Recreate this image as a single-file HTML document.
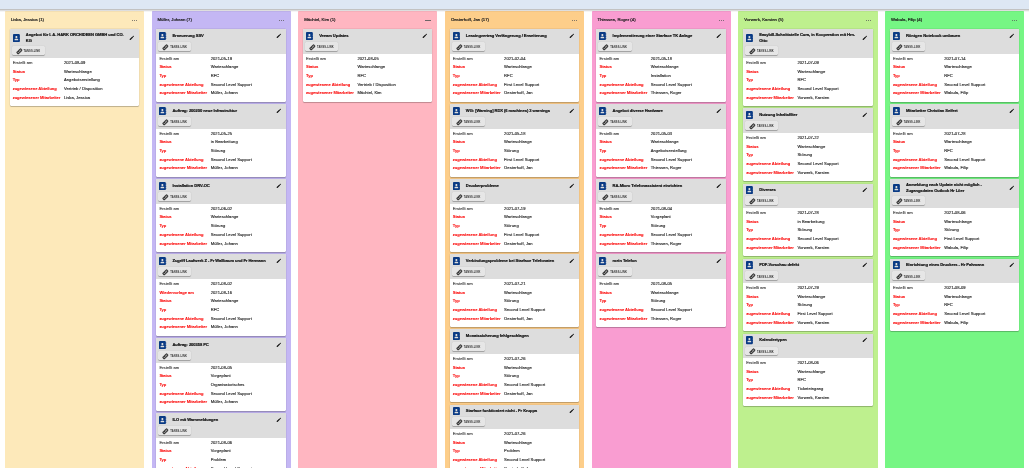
<!DOCTYPE html>
<html lang="de">
<head>
<meta charset="utf-8">
<title>Ticketboard</title>
<style>
html,body{margin:0;padding:0;background:#fff;}
body{width:1029px;height:468px;overflow:hidden;position:relative;font-family:"Liberation Sans",sans-serif;font-size:4.1px;color:#222;}
#app{position:absolute;left:0;top:0;width:1029px;height:468px;overflow:hidden;will-change:transform;-webkit-text-stroke:0.13px;}
.top{position:absolute;left:0;top:0;width:1029px;height:8.8px;background:#dde7f4;z-index:2;}
.sh{position:absolute;left:0;top:8.8px;width:1029px;height:3.6px;z-index:2;background:linear-gradient(to bottom,rgba(0,0,0,.25) 0,rgba(0,0,0,.23) 30%,rgba(0,0,0,.13) 50%,rgba(0,0,0,.07) 70%,rgba(0,0,0,0) 100%);}
.col{position:absolute;top:11.2px;width:138.6px;height:470px;}
.bg{position:absolute;top:0;bottom:0;border-radius:0.8px;}
.ct{position:absolute;left:5.6px;top:5.65px;font-size:4.3px;line-height:6px;color:#1c1c1c;white-space:nowrap;-webkit-text-stroke:0.2px;}
.dots{position:absolute;right:6.7px;top:8.6px;width:5.05px;height:1.2px;display:flex;justify-content:space-between;}
.dots i{display:block;width:1.05px;height:1.05px;border-radius:50%;background:#5a5a5a;}
.cards{position:absolute;left:4.7px;top:18px;width:129.1px;--cdl:0px;--cdr:0px;}
.card{background:#fff;border-radius:1.2px;margin:0 calc(0px - var(--cdr)) 2.5px calc(0px - var(--cdl));padding:0 var(--cdr) 0 var(--cdl);box-shadow:0 0.6px 0.4px -0.3px rgba(0,0,0,.2),0 0.3px 0.4px rgba(0,0,0,.16),0 0.3px 1px rgba(0,0,0,.14),0 0 0 0.5px rgba(0,0,0,.07);overflow:hidden;}
.hd{background:#dddddd;margin:0 calc(0px - var(--cdr)) 0 calc(0px - var(--cdl));padding:2.6px var(--cdr) 3px var(--cdl);}
.tr{display:flex;align-items:center;min-height:8.3px;}
.ib{width:7.3px;height:8.3px;margin-left:2.7px;flex:none;fill:#093a85;display:block;}
.tt{margin-left:5.9px;flex:1;font-weight:bold;font-size:4.1px;line-height:5.8px;letter-spacing:-0.07px;color:#111;white-space:nowrap;padding-bottom:0.9px;-webkit-text-stroke:0.19px;}
.ip{width:5.7px;height:5.7px;flex:none;margin-right:4.3px;margin-top:-0.3px;fill:#151515;display:block;}
.btn{margin:2px 0 0 1.7px;width:33.2px;height:8.6px;background:#e6e6e6;border-radius:1.2px;box-shadow:0 0.9px 0.35px -0.5px rgba(0,0,0,.25),0 0.55px 0.5px rgba(0,0,0,.2),0 0.3px 1.3px rgba(0,0,0,.16);display:flex;align-items:center;box-sizing:border-box;padding-left:4.0px;}
.il{width:6.7px;height:6.7px;flex:none;fill:#1a1a1a;stroke:#1a1a1a;stroke-width:1.7;display:block;position:relative;top:0.9px;overflow:visible;}
.bt{margin-left:1.3px;font-weight:bold;font-size:2.6px;letter-spacing:0.12px;color:#333;white-space:nowrap;line-height:4px;position:relative;top:1.75px;-webkit-text-stroke:0;}
.bd{padding:1px 0 3.65px 0;}
.r{position:relative;height:8.7px;line-height:8.7px;white-space:nowrap;}
.l{position:absolute;left:2.8px;top:0;font-weight:bold;color:#fb1111;letter-spacing:-0.05px;-webkit-text-stroke:0.09px;}
.l.g{font-weight:normal;color:#4a4a4a;letter-spacing:0.045px;-webkit-text-stroke:0.15px;}
.v{position:absolute;left:54.1px;top:0;color:#262626;letter-spacing:0.045px;}
</style>
</head>
<body>
<div id="app">
<div class="top"></div>
<div class="sh"></div>
<div class="col" style="left:5.2px">
<div class="bg" style="left:0px;right:0px;background:#fde9ba"></div>
<div class="ct">Liska, Jessica (1)</div>
<div class="dots"><i></i><i></i><i></i></div>
<div class="cards">
<div class="card">
<div class="hd">
<div class="tr"><svg class="ib" viewBox="0 0 448 512"><path d="M436 160c6.6 0 12-5.4 12-12v-40c0-6.6-5.4-12-12-12h-20V48c0-26.5-21.5-48-48-48H48C21.5 0 0 21.5 0 48v416c0 26.5 21.5 48 48 48h320c26.5 0 48-21.5 48-48v-48h20c6.6 0 12-5.4 12-12v-40c0-6.6-5.4-12-12-12h-20v-64h20c6.6 0 12-5.4 12-12v-40c0-6.6-5.4-12-12-12h-20v-64h20zm-228-32c35.3 0 64 28.7 64 64s-28.7 64-64 64-64-28.7-64-64 28.7-64 64-64zm112 236.8c0 10.6-10 19.2-22.4 19.2H118.4C106 384 96 375.4 96 364.8v-19.2c0-31.8 30.1-57.6 67.2-57.6h5c12.3 5.1 25.7 8 39.8 8s27.6-2.9 39.8-8h5c37.1 0 67.2 25.8 67.2 57.6v19.2z"/></svg><div class="tt">Angebot für I. A. HARK ORCHIDEEN GMBH und CO.<br>KG</div><svg class="ip" viewBox="0 0 24 24"><path d="M20.71 7.04C21.1 6.65 21.1 6 20.71 5.63L18.37 3.29C18 2.9 17.35 2.9 16.96 3.29L15.12 5.12L18.87 8.87M3 17.25V21H6.75L17.81 9.93L14.06 6.18L3 17.25Z"/></svg></div>
<div class="btn"><svg class="il" viewBox="0 0 24 24"><path d="M10.59 13.41C11 13.8 11 14.44 10.59 14.83C10.2 15.22 9.56 15.22 9.17 14.83C7.22 12.88 7.22 9.71 9.17 7.76V7.76L12.71 4.22C14.66 2.27 17.83 2.27 19.78 4.22C21.73 6.17 21.73 9.34 19.78 11.29L18.29 12.78C18.3 11.96 18.17 11.14 17.89 10.36L18.36 9.88C19.54 8.71 19.54 6.81 18.36 5.64C17.19 4.46 15.29 4.46 14.12 5.64L10.59 9.17C9.41 10.34 9.41 12.24 10.59 13.41M13.41 9.17C13.8 8.78 14.44 8.78 14.83 9.17C16.78 11.12 16.78 14.29 14.83 16.24V16.24L11.29 19.78C9.34 21.73 6.17 21.73 4.22 19.78C2.27 17.83 2.27 14.66 4.22 12.71L5.71 11.22C5.7 12.04 5.83 12.86 6.11 13.65L5.64 14.12C4.46 15.29 4.46 17.19 5.64 18.36C6.81 19.54 8.71 19.54 9.88 18.36L13.41 14.83C14.59 13.66 14.59 11.76 13.41 10.59C13 10.2 13 9.56 13.41 9.17Z"/></svg><span class="bt">TANSS-LINK</span></div>
</div>
<div class="bd">
<div class="r"><span class="l g">Erstellt am</span><span class="v">2021-08-09</span></div>
<div class="r"><span class="l">Status</span><span class="v">Warteschlange</span></div>
<div class="r"><span class="l">Typ</span><span class="v">Angebotserstellung</span></div>
<div class="r"><span class="l">zugewiesene Abteilung</span><span class="v">Vertrieb / Disposition</span></div>
<div class="r"><span class="l">zugewiesener Mitarbeiter</span><span class="v">Liska, Jessica</span></div>
</div>
</div>
</div>
</div>
<div class="col" style="left:151.9px">
<div class="bg" style="left:0px;right:-1px;background:#c4b7f4"></div>
<div class="ct">Müller, Johann (7)</div>
<div class="dots"><i></i><i></i><i></i></div>
<div class="cards" style="--cdl:1px;--cdr:0.2px">
<div class="card">
<div class="hd">
<div class="tr"><svg class="ib" viewBox="0 0 448 512"><path d="M436 160c6.6 0 12-5.4 12-12v-40c0-6.6-5.4-12-12-12h-20V48c0-26.5-21.5-48-48-48H48C21.5 0 0 21.5 0 48v416c0 26.5 21.5 48 48 48h320c26.5 0 48-21.5 48-48v-48h20c6.6 0 12-5.4 12-12v-40c0-6.6-5.4-12-12-12h-20v-64h20c6.6 0 12-5.4 12-12v-40c0-6.6-5.4-12-12-12h-20v-64h20zm-228-32c35.3 0 64 28.7 64 64s-28.7 64-64 64-64-28.7-64-64 28.7-64 64-64zm112 236.8c0 10.6-10 19.2-22.4 19.2H118.4C106 384 96 375.4 96 364.8v-19.2c0-31.8 30.1-57.6 67.2-57.6h5c12.3 5.1 25.7 8 39.8 8s27.6-2.9 39.8-8h5c37.1 0 67.2 25.8 67.2 57.6v19.2z"/></svg><div class="tt">Erneuerung SSV</div><svg class="ip" viewBox="0 0 24 24"><path d="M20.71 7.04C21.1 6.65 21.1 6 20.71 5.63L18.37 3.29C18 2.9 17.35 2.9 16.96 3.29L15.12 5.12L18.87 8.87M3 17.25V21H6.75L17.81 9.93L14.06 6.18L3 17.25Z"/></svg></div>
<div class="btn"><svg class="il" viewBox="0 0 24 24"><path d="M10.59 13.41C11 13.8 11 14.44 10.59 14.83C10.2 15.22 9.56 15.22 9.17 14.83C7.22 12.88 7.22 9.71 9.17 7.76V7.76L12.71 4.22C14.66 2.27 17.83 2.27 19.78 4.22C21.73 6.17 21.73 9.34 19.78 11.29L18.29 12.78C18.3 11.96 18.17 11.14 17.89 10.36L18.36 9.88C19.54 8.71 19.54 6.81 18.36 5.64C17.19 4.46 15.29 4.46 14.12 5.64L10.59 9.17C9.41 10.34 9.41 12.24 10.59 13.41M13.41 9.17C13.8 8.78 14.44 8.78 14.83 9.17C16.78 11.12 16.78 14.29 14.83 16.24V16.24L11.29 19.78C9.34 21.73 6.17 21.73 4.22 19.78C2.27 17.83 2.27 14.66 4.22 12.71L5.71 11.22C5.7 12.04 5.83 12.86 6.11 13.65L5.64 14.12C4.46 15.29 4.46 17.19 5.64 18.36C6.81 19.54 8.71 19.54 9.88 18.36L13.41 14.83C14.59 13.66 14.59 11.76 13.41 10.59C13 10.2 13 9.56 13.41 9.17Z"/></svg><span class="bt">TANSS-LINK</span></div>
</div>
<div class="bd">
<div class="r"><span class="l g">Erstellt am</span><span class="v">2021-05-19</span></div>
<div class="r"><span class="l">Status</span><span class="v">Warteschlange</span></div>
<div class="r"><span class="l">Typ</span><span class="v">RFC</span></div>
<div class="r"><span class="l">zugewiesene Abteilung</span><span class="v">Second Level Support</span></div>
<div class="r"><span class="l">zugewiesener Mitarbeiter</span><span class="v">Müller, Johann</span></div>
</div>
</div>
<div class="card">
<div class="hd">
<div class="tr"><svg class="ib" viewBox="0 0 448 512"><path d="M436 160c6.6 0 12-5.4 12-12v-40c0-6.6-5.4-12-12-12h-20V48c0-26.5-21.5-48-48-48H48C21.5 0 0 21.5 0 48v416c0 26.5 21.5 48 48 48h320c26.5 0 48-21.5 48-48v-48h20c6.6 0 12-5.4 12-12v-40c0-6.6-5.4-12-12-12h-20v-64h20c6.6 0 12-5.4 12-12v-40c0-6.6-5.4-12-12-12h-20v-64h20zm-228-32c35.3 0 64 28.7 64 64s-28.7 64-64 64-64-28.7-64-64 28.7-64 64-64zm112 236.8c0 10.6-10 19.2-22.4 19.2H118.4C106 384 96 375.4 96 364.8v-19.2c0-31.8 30.1-57.6 67.2-57.6h5c12.3 5.1 25.7 8 39.8 8s27.6-2.9 39.8-8h5c37.1 0 67.2 25.8 67.2 57.6v19.2z"/></svg><div class="tt">Auftrag: 200200 neue Infrastruktur</div><svg class="ip" viewBox="0 0 24 24"><path d="M20.71 7.04C21.1 6.65 21.1 6 20.71 5.63L18.37 3.29C18 2.9 17.35 2.9 16.96 3.29L15.12 5.12L18.87 8.87M3 17.25V21H6.75L17.81 9.93L14.06 6.18L3 17.25Z"/></svg></div>
<div class="btn"><svg class="il" viewBox="0 0 24 24"><path d="M10.59 13.41C11 13.8 11 14.44 10.59 14.83C10.2 15.22 9.56 15.22 9.17 14.83C7.22 12.88 7.22 9.71 9.17 7.76V7.76L12.71 4.22C14.66 2.27 17.83 2.27 19.78 4.22C21.73 6.17 21.73 9.34 19.78 11.29L18.29 12.78C18.3 11.96 18.17 11.14 17.89 10.36L18.36 9.88C19.54 8.71 19.54 6.81 18.36 5.64C17.19 4.46 15.29 4.46 14.12 5.64L10.59 9.17C9.41 10.34 9.41 12.24 10.59 13.41M13.41 9.17C13.8 8.78 14.44 8.78 14.83 9.17C16.78 11.12 16.78 14.29 14.83 16.24V16.24L11.29 19.78C9.34 21.73 6.17 21.73 4.22 19.78C2.27 17.83 2.27 14.66 4.22 12.71L5.71 11.22C5.7 12.04 5.83 12.86 6.11 13.65L5.64 14.12C4.46 15.29 4.46 17.19 5.64 18.36C6.81 19.54 8.71 19.54 9.88 18.36L13.41 14.83C14.59 13.66 14.59 11.76 13.41 10.59C13 10.2 13 9.56 13.41 9.17Z"/></svg><span class="bt">TANSS-LINK</span></div>
</div>
<div class="bd">
<div class="r"><span class="l g">Erstellt am</span><span class="v">2021-05-25</span></div>
<div class="r"><span class="l">Status</span><span class="v">in Bearbeitung</span></div>
<div class="r"><span class="l">Typ</span><span class="v">Störung</span></div>
<div class="r"><span class="l">zugewiesene Abteilung</span><span class="v">Second Level Support</span></div>
<div class="r"><span class="l">zugewiesener Mitarbeiter</span><span class="v">Müller, Johann</span></div>
</div>
</div>
<div class="card">
<div class="hd">
<div class="tr"><svg class="ib" viewBox="0 0 448 512"><path d="M436 160c6.6 0 12-5.4 12-12v-40c0-6.6-5.4-12-12-12h-20V48c0-26.5-21.5-48-48-48H48C21.5 0 0 21.5 0 48v416c0 26.5 21.5 48 48 48h320c26.5 0 48-21.5 48-48v-48h20c6.6 0 12-5.4 12-12v-40c0-6.6-5.4-12-12-12h-20v-64h20c6.6 0 12-5.4 12-12v-40c0-6.6-5.4-12-12-12h-20v-64h20zm-228-32c35.3 0 64 28.7 64 64s-28.7 64-64 64-64-28.7-64-64 28.7-64 64-64zm112 236.8c0 10.6-10 19.2-22.4 19.2H118.4C106 384 96 375.4 96 364.8v-19.2c0-31.8 30.1-57.6 67.2-57.6h5c12.3 5.1 25.7 8 39.8 8s27.6-2.9 39.8-8h5c37.1 0 67.2 25.8 67.2 57.6v19.2z"/></svg><div class="tt">Installation DRV-OC</div><svg class="ip" viewBox="0 0 24 24"><path d="M20.71 7.04C21.1 6.65 21.1 6 20.71 5.63L18.37 3.29C18 2.9 17.35 2.9 16.96 3.29L15.12 5.12L18.87 8.87M3 17.25V21H6.75L17.81 9.93L14.06 6.18L3 17.25Z"/></svg></div>
<div class="btn"><svg class="il" viewBox="0 0 24 24"><path d="M10.59 13.41C11 13.8 11 14.44 10.59 14.83C10.2 15.22 9.56 15.22 9.17 14.83C7.22 12.88 7.22 9.71 9.17 7.76V7.76L12.71 4.22C14.66 2.27 17.83 2.27 19.78 4.22C21.73 6.17 21.73 9.34 19.78 11.29L18.29 12.78C18.3 11.96 18.17 11.14 17.89 10.36L18.36 9.88C19.54 8.71 19.54 6.81 18.36 5.64C17.19 4.46 15.29 4.46 14.12 5.64L10.59 9.17C9.41 10.34 9.41 12.24 10.59 13.41M13.41 9.17C13.8 8.78 14.44 8.78 14.83 9.17C16.78 11.12 16.78 14.29 14.83 16.24V16.24L11.29 19.78C9.34 21.73 6.17 21.73 4.22 19.78C2.27 17.83 2.27 14.66 4.22 12.71L5.71 11.22C5.7 12.04 5.83 12.86 6.11 13.65L5.64 14.12C4.46 15.29 4.46 17.19 5.64 18.36C6.81 19.54 8.71 19.54 9.88 18.36L13.41 14.83C14.59 13.66 14.59 11.76 13.41 10.59C13 10.2 13 9.56 13.41 9.17Z"/></svg><span class="bt">TANSS-LINK</span></div>
</div>
<div class="bd">
<div class="r"><span class="l g">Erstellt am</span><span class="v">2021-06-02</span></div>
<div class="r"><span class="l">Status</span><span class="v">Warteschlange</span></div>
<div class="r"><span class="l">Typ</span><span class="v">Störung</span></div>
<div class="r"><span class="l">zugewiesene Abteilung</span><span class="v">Second Level Support</span></div>
<div class="r"><span class="l">zugewiesener Mitarbeiter</span><span class="v">Müller, Johann</span></div>
</div>
</div>
<div class="card">
<div class="hd">
<div class="tr"><svg class="ib" viewBox="0 0 448 512"><path d="M436 160c6.6 0 12-5.4 12-12v-40c0-6.6-5.4-12-12-12h-20V48c0-26.5-21.5-48-48-48H48C21.5 0 0 21.5 0 48v416c0 26.5 21.5 48 48 48h320c26.5 0 48-21.5 48-48v-48h20c6.6 0 12-5.4 12-12v-40c0-6.6-5.4-12-12-12h-20v-64h20c6.6 0 12-5.4 12-12v-40c0-6.6-5.4-12-12-12h-20v-64h20zm-228-32c35.3 0 64 28.7 64 64s-28.7 64-64 64-64-28.7-64-64 28.7-64 64-64zm112 236.8c0 10.6-10 19.2-22.4 19.2H118.4C106 384 96 375.4 96 364.8v-19.2c0-31.8 30.1-57.6 67.2-57.6h5c12.3 5.1 25.7 8 39.8 8s27.6-2.9 39.8-8h5c37.1 0 67.2 25.8 67.2 57.6v19.2z"/></svg><div class="tt">Zugriff Laufwerk Z - Fr Wallbaum und Fr Hermann</div><svg class="ip" viewBox="0 0 24 24"><path d="M20.71 7.04C21.1 6.65 21.1 6 20.71 5.63L18.37 3.29C18 2.9 17.35 2.9 16.96 3.29L15.12 5.12L18.87 8.87M3 17.25V21H6.75L17.81 9.93L14.06 6.18L3 17.25Z"/></svg></div>
<div class="btn"><svg class="il" viewBox="0 0 24 24"><path d="M10.59 13.41C11 13.8 11 14.44 10.59 14.83C10.2 15.22 9.56 15.22 9.17 14.83C7.22 12.88 7.22 9.71 9.17 7.76V7.76L12.71 4.22C14.66 2.27 17.83 2.27 19.78 4.22C21.73 6.17 21.73 9.34 19.78 11.29L18.29 12.78C18.3 11.96 18.17 11.14 17.89 10.36L18.36 9.88C19.54 8.71 19.54 6.81 18.36 5.64C17.19 4.46 15.29 4.46 14.12 5.64L10.59 9.17C9.41 10.34 9.41 12.24 10.59 13.41M13.41 9.17C13.8 8.78 14.44 8.78 14.83 9.17C16.78 11.12 16.78 14.29 14.83 16.24V16.24L11.29 19.78C9.34 21.73 6.17 21.73 4.22 19.78C2.27 17.83 2.27 14.66 4.22 12.71L5.71 11.22C5.7 12.04 5.83 12.86 6.11 13.65L5.64 14.12C4.46 15.29 4.46 17.19 5.64 18.36C6.81 19.54 8.71 19.54 9.88 18.36L13.41 14.83C14.59 13.66 14.59 11.76 13.41 10.59C13 10.2 13 9.56 13.41 9.17Z"/></svg><span class="bt">TANSS-LINK</span></div>
</div>
<div class="bd">
<div class="r"><span class="l g">Erstellt am</span><span class="v">2021-08-02</span></div>
<div class="r"><span class="l">Wiedervorlage am</span><span class="v">2021-08-16</span></div>
<div class="r"><span class="l">Status</span><span class="v">Warteschlange</span></div>
<div class="r"><span class="l">Typ</span><span class="v">RFC</span></div>
<div class="r"><span class="l">zugewiesene Abteilung</span><span class="v">Second Level Support</span></div>
<div class="r"><span class="l">zugewiesener Mitarbeiter</span><span class="v">Müller, Johann</span></div>
</div>
</div>
<div class="card">
<div class="hd">
<div class="tr"><svg class="ib" viewBox="0 0 448 512"><path d="M436 160c6.6 0 12-5.4 12-12v-40c0-6.6-5.4-12-12-12h-20V48c0-26.5-21.5-48-48-48H48C21.5 0 0 21.5 0 48v416c0 26.5 21.5 48 48 48h320c26.5 0 48-21.5 48-48v-48h20c6.6 0 12-5.4 12-12v-40c0-6.6-5.4-12-12-12h-20v-64h20c6.6 0 12-5.4 12-12v-40c0-6.6-5.4-12-12-12h-20v-64h20zm-228-32c35.3 0 64 28.7 64 64s-28.7 64-64 64-64-28.7-64-64 28.7-64 64-64zm112 236.8c0 10.6-10 19.2-22.4 19.2H118.4C106 384 96 375.4 96 364.8v-19.2c0-31.8 30.1-57.6 67.2-57.6h5c12.3 5.1 25.7 8 39.8 8s27.6-2.9 39.8-8h5c37.1 0 67.2 25.8 67.2 57.6v19.2z"/></svg><div class="tt">Auftrag: 200358 PC</div><svg class="ip" viewBox="0 0 24 24"><path d="M20.71 7.04C21.1 6.65 21.1 6 20.71 5.63L18.37 3.29C18 2.9 17.35 2.9 16.96 3.29L15.12 5.12L18.87 8.87M3 17.25V21H6.75L17.81 9.93L14.06 6.18L3 17.25Z"/></svg></div>
<div class="btn"><svg class="il" viewBox="0 0 24 24"><path d="M10.59 13.41C11 13.8 11 14.44 10.59 14.83C10.2 15.22 9.56 15.22 9.17 14.83C7.22 12.88 7.22 9.71 9.17 7.76V7.76L12.71 4.22C14.66 2.27 17.83 2.27 19.78 4.22C21.73 6.17 21.73 9.34 19.78 11.29L18.29 12.78C18.3 11.96 18.17 11.14 17.89 10.36L18.36 9.88C19.54 8.71 19.54 6.81 18.36 5.64C17.19 4.46 15.29 4.46 14.12 5.64L10.59 9.17C9.41 10.34 9.41 12.24 10.59 13.41M13.41 9.17C13.8 8.78 14.44 8.78 14.83 9.17C16.78 11.12 16.78 14.29 14.83 16.24V16.24L11.29 19.78C9.34 21.73 6.17 21.73 4.22 19.78C2.27 17.83 2.27 14.66 4.22 12.71L5.71 11.22C5.7 12.04 5.83 12.86 6.11 13.65L5.64 14.12C4.46 15.29 4.46 17.19 5.64 18.36C6.81 19.54 8.71 19.54 9.88 18.36L13.41 14.83C14.59 13.66 14.59 11.76 13.41 10.59C13 10.2 13 9.56 13.41 9.17Z"/></svg><span class="bt">TANSS-LINK</span></div>
</div>
<div class="bd">
<div class="r"><span class="l g">Erstellt am</span><span class="v">2021-08-05</span></div>
<div class="r"><span class="l">Status</span><span class="v">Vorgeplant</span></div>
<div class="r"><span class="l">Typ</span><span class="v">Organisatorisches</span></div>
<div class="r"><span class="l">zugewiesene Abteilung</span><span class="v">Second Level Support</span></div>
<div class="r"><span class="l">zugewiesener Mitarbeiter</span><span class="v">Müller, Johann</span></div>
</div>
</div>
<div class="card">
<div class="hd">
<div class="tr"><svg class="ib" viewBox="0 0 448 512"><path d="M436 160c6.6 0 12-5.4 12-12v-40c0-6.6-5.4-12-12-12h-20V48c0-26.5-21.5-48-48-48H48C21.5 0 0 21.5 0 48v416c0 26.5 21.5 48 48 48h320c26.5 0 48-21.5 48-48v-48h20c6.6 0 12-5.4 12-12v-40c0-6.6-5.4-12-12-12h-20v-64h20c6.6 0 12-5.4 12-12v-40c0-6.6-5.4-12-12-12h-20v-64h20zm-228-32c35.3 0 64 28.7 64 64s-28.7 64-64 64-64-28.7-64-64 28.7-64 64-64zm112 236.8c0 10.6-10 19.2-22.4 19.2H118.4C106 384 96 375.4 96 364.8v-19.2c0-31.8 30.1-57.6 67.2-57.6h5c12.3 5.1 25.7 8 39.8 8s27.6-2.9 39.8-8h5c37.1 0 67.2 25.8 67.2 57.6v19.2z"/></svg><div class="tt">ILO mit Warnmeldungen</div><svg class="ip" viewBox="0 0 24 24"><path d="M20.71 7.04C21.1 6.65 21.1 6 20.71 5.63L18.37 3.29C18 2.9 17.35 2.9 16.96 3.29L15.12 5.12L18.87 8.87M3 17.25V21H6.75L17.81 9.93L14.06 6.18L3 17.25Z"/></svg></div>
<div class="btn"><svg class="il" viewBox="0 0 24 24"><path d="M10.59 13.41C11 13.8 11 14.44 10.59 14.83C10.2 15.22 9.56 15.22 9.17 14.83C7.22 12.88 7.22 9.71 9.17 7.76V7.76L12.71 4.22C14.66 2.27 17.83 2.27 19.78 4.22C21.73 6.17 21.73 9.34 19.78 11.29L18.29 12.78C18.3 11.96 18.17 11.14 17.89 10.36L18.36 9.88C19.54 8.71 19.54 6.81 18.36 5.64C17.19 4.46 15.29 4.46 14.12 5.64L10.59 9.17C9.41 10.34 9.41 12.24 10.59 13.41M13.41 9.17C13.8 8.78 14.44 8.78 14.83 9.17C16.78 11.12 16.78 14.29 14.83 16.24V16.24L11.29 19.78C9.34 21.73 6.17 21.73 4.22 19.78C2.27 17.83 2.27 14.66 4.22 12.71L5.71 11.22C5.7 12.04 5.83 12.86 6.11 13.65L5.64 14.12C4.46 15.29 4.46 17.19 5.64 18.36C6.81 19.54 8.71 19.54 9.88 18.36L13.41 14.83C14.59 13.66 14.59 11.76 13.41 10.59C13 10.2 13 9.56 13.41 9.17Z"/></svg><span class="bt">TANSS-LINK</span></div>
</div>
<div class="bd">
<div class="r"><span class="l g">Erstellt am</span><span class="v">2021-08-06</span></div>
<div class="r"><span class="l">Status</span><span class="v">Vorgeplant</span></div>
<div class="r"><span class="l">Typ</span><span class="v">Problem</span></div>
<div class="r"><span class="l">zugewiesene Abteilung</span><span class="v">Second Level Support</span></div>
<div class="r"><span class="l">zugewiesener Mitarbeiter</span><span class="v">Müller, Johann</span></div>
</div>
</div>
</div>
</div>
<div class="col" style="left:298.6px">
<div class="bg" style="left:-0.95px;right:0px;background:#ffb6c1"></div>
<div class="ct">Mächtel, Kim (1)</div>
<div class="dots"><i></i><i></i><i></i></div>
<div class="cards">
<div class="card">
<div class="hd">
<div class="tr"><svg class="ib" viewBox="0 0 448 512"><path d="M436 160c6.6 0 12-5.4 12-12v-40c0-6.6-5.4-12-12-12h-20V48c0-26.5-21.5-48-48-48H48C21.5 0 0 21.5 0 48v416c0 26.5 21.5 48 48 48h320c26.5 0 48-21.5 48-48v-48h20c6.6 0 12-5.4 12-12v-40c0-6.6-5.4-12-12-12h-20v-64h20c6.6 0 12-5.4 12-12v-40c0-6.6-5.4-12-12-12h-20v-64h20zm-228-32c35.3 0 64 28.7 64 64s-28.7 64-64 64-64-28.7-64-64 28.7-64 64-64zm112 236.8c0 10.6-10 19.2-22.4 19.2H118.4C106 384 96 375.4 96 364.8v-19.2c0-31.8 30.1-57.6 67.2-57.6h5c12.3 5.1 25.7 8 39.8 8s27.6-2.9 39.8-8h5c37.1 0 67.2 25.8 67.2 57.6v19.2z"/></svg><div class="tt">Veeam Updates</div><svg class="ip" viewBox="0 0 24 24"><path d="M20.71 7.04C21.1 6.65 21.1 6 20.71 5.63L18.37 3.29C18 2.9 17.35 2.9 16.96 3.29L15.12 5.12L18.87 8.87M3 17.25V21H6.75L17.81 9.93L14.06 6.18L3 17.25Z"/></svg></div>
<div class="btn"><svg class="il" viewBox="0 0 24 24"><path d="M10.59 13.41C11 13.8 11 14.44 10.59 14.83C10.2 15.22 9.56 15.22 9.17 14.83C7.22 12.88 7.22 9.71 9.17 7.76V7.76L12.71 4.22C14.66 2.27 17.83 2.27 19.78 4.22C21.73 6.17 21.73 9.34 19.78 11.29L18.29 12.78C18.3 11.96 18.17 11.14 17.89 10.36L18.36 9.88C19.54 8.71 19.54 6.81 18.36 5.64C17.19 4.46 15.29 4.46 14.12 5.64L10.59 9.17C9.41 10.34 9.41 12.24 10.59 13.41M13.41 9.17C13.8 8.78 14.44 8.78 14.83 9.17C16.78 11.12 16.78 14.29 14.83 16.24V16.24L11.29 19.78C9.34 21.73 6.17 21.73 4.22 19.78C2.27 17.83 2.27 14.66 4.22 12.71L5.71 11.22C5.7 12.04 5.83 12.86 6.11 13.65L5.64 14.12C4.46 15.29 4.46 17.19 5.64 18.36C6.81 19.54 8.71 19.54 9.88 18.36L13.41 14.83C14.59 13.66 14.59 11.76 13.41 10.59C13 10.2 13 9.56 13.41 9.17Z"/></svg><span class="bt">TANSS-LINK</span></div>
</div>
<div class="bd">
<div class="r"><span class="l g">Erstellt am</span><span class="v">2021-08-05</span></div>
<div class="r"><span class="l">Status</span><span class="v">Warteschlange</span></div>
<div class="r"><span class="l">Typ</span><span class="v">RFC</span></div>
<div class="r"><span class="l">zugewiesene Abteilung</span><span class="v">Vertrieb / Disposition</span></div>
<div class="r"><span class="l">zugewiesener Mitarbeiter</span><span class="v">Mächtel, Kim</span></div>
</div>
</div>
</div>
</div>
<div class="col" style="left:445.3px">
<div class="bg" style="left:0px;right:0px;background:#fdce8a"></div>
<div class="ct">Oesterhoff, Jan (17)</div>
<div class="dots"><i></i><i></i><i></i></div>
<div class="cards">
<div class="card">
<div class="hd">
<div class="tr"><svg class="ib" viewBox="0 0 448 512"><path d="M436 160c6.6 0 12-5.4 12-12v-40c0-6.6-5.4-12-12-12h-20V48c0-26.5-21.5-48-48-48H48C21.5 0 0 21.5 0 48v416c0 26.5 21.5 48 48 48h320c26.5 0 48-21.5 48-48v-48h20c6.6 0 12-5.4 12-12v-40c0-6.6-5.4-12-12-12h-20v-64h20c6.6 0 12-5.4 12-12v-40c0-6.6-5.4-12-12-12h-20v-64h20zm-228-32c35.3 0 64 28.7 64 64s-28.7 64-64 64-64-28.7-64-64 28.7-64 64-64zm112 236.8c0 10.6-10 19.2-22.4 19.2H118.4C106 384 96 375.4 96 364.8v-19.2c0-31.8 30.1-57.6 67.2-57.6h5c12.3 5.1 25.7 8 39.8 8s27.6-2.9 39.8-8h5c37.1 0 67.2 25.8 67.2 57.6v19.2z"/></svg><div class="tt">Leasingvertrag Verlängerung / Erweiterung</div><svg class="ip" viewBox="0 0 24 24"><path d="M20.71 7.04C21.1 6.65 21.1 6 20.71 5.63L18.37 3.29C18 2.9 17.35 2.9 16.96 3.29L15.12 5.12L18.87 8.87M3 17.25V21H6.75L17.81 9.93L14.06 6.18L3 17.25Z"/></svg></div>
<div class="btn"><svg class="il" viewBox="0 0 24 24"><path d="M10.59 13.41C11 13.8 11 14.44 10.59 14.83C10.2 15.22 9.56 15.22 9.17 14.83C7.22 12.88 7.22 9.71 9.17 7.76V7.76L12.71 4.22C14.66 2.27 17.83 2.27 19.78 4.22C21.73 6.17 21.73 9.34 19.78 11.29L18.29 12.78C18.3 11.96 18.17 11.14 17.89 10.36L18.36 9.88C19.54 8.71 19.54 6.81 18.36 5.64C17.19 4.46 15.29 4.46 14.12 5.64L10.59 9.17C9.41 10.34 9.41 12.24 10.59 13.41M13.41 9.17C13.8 8.78 14.44 8.78 14.83 9.17C16.78 11.12 16.78 14.29 14.83 16.24V16.24L11.29 19.78C9.34 21.73 6.17 21.73 4.22 19.78C2.27 17.83 2.27 14.66 4.22 12.71L5.71 11.22C5.7 12.04 5.83 12.86 6.11 13.65L5.64 14.12C4.46 15.29 4.46 17.19 5.64 18.36C6.81 19.54 8.71 19.54 9.88 18.36L13.41 14.83C14.59 13.66 14.59 11.76 13.41 10.59C13 10.2 13 9.56 13.41 9.17Z"/></svg><span class="bt">TANSS-LINK</span></div>
</div>
<div class="bd">
<div class="r"><span class="l g">Erstellt am</span><span class="v">2021-02-04</span></div>
<div class="r"><span class="l">Status</span><span class="v">Warteschlange</span></div>
<div class="r"><span class="l">Typ</span><span class="v">RFC</span></div>
<div class="r"><span class="l">zugewiesene Abteilung</span><span class="v">First Level Support</span></div>
<div class="r"><span class="l">zugewiesener Mitarbeiter</span><span class="v">Oesterhoff, Jan</span></div>
</div>
</div>
<div class="card">
<div class="hd">
<div class="tr"><svg class="ib" viewBox="0 0 448 512"><path d="M436 160c6.6 0 12-5.4 12-12v-40c0-6.6-5.4-12-12-12h-20V48c0-26.5-21.5-48-48-48H48C21.5 0 0 21.5 0 48v416c0 26.5 21.5 48 48 48h320c26.5 0 48-21.5 48-48v-48h20c6.6 0 12-5.4 12-12v-40c0-6.6-5.4-12-12-12h-20v-64h20c6.6 0 12-5.4 12-12v-40c0-6.6-5.4-12-12-12h-20v-64h20zm-228-32c35.3 0 64 28.7 64 64s-28.7 64-64 64-64-28.7-64-64 28.7-64 64-64zm112 236.8c0 10.6-10 19.2-22.4 19.2H118.4C106 384 96 375.4 96 364.8v-19.2c0-31.8 30.1-57.6 67.2-57.6h5c12.3 5.1 25.7 8 39.8 8s27.6-2.9 39.8-8h5c37.1 0 67.2 25.8 67.2 57.6v19.2z"/></svg><div class="tt">WG: [Warning] RDX (6 machines) 3 warnings</div><svg class="ip" viewBox="0 0 24 24"><path d="M20.71 7.04C21.1 6.65 21.1 6 20.71 5.63L18.37 3.29C18 2.9 17.35 2.9 16.96 3.29L15.12 5.12L18.87 8.87M3 17.25V21H6.75L17.81 9.93L14.06 6.18L3 17.25Z"/></svg></div>
<div class="btn"><svg class="il" viewBox="0 0 24 24"><path d="M10.59 13.41C11 13.8 11 14.44 10.59 14.83C10.2 15.22 9.56 15.22 9.17 14.83C7.22 12.88 7.22 9.71 9.17 7.76V7.76L12.71 4.22C14.66 2.27 17.83 2.27 19.78 4.22C21.73 6.17 21.73 9.34 19.78 11.29L18.29 12.78C18.3 11.96 18.17 11.14 17.89 10.36L18.36 9.88C19.54 8.71 19.54 6.81 18.36 5.64C17.19 4.46 15.29 4.46 14.12 5.64L10.59 9.17C9.41 10.34 9.41 12.24 10.59 13.41M13.41 9.17C13.8 8.78 14.44 8.78 14.83 9.17C16.78 11.12 16.78 14.29 14.83 16.24V16.24L11.29 19.78C9.34 21.73 6.17 21.73 4.22 19.78C2.27 17.83 2.27 14.66 4.22 12.71L5.71 11.22C5.7 12.04 5.83 12.86 6.11 13.65L5.64 14.12C4.46 15.29 4.46 17.19 5.64 18.36C6.81 19.54 8.71 19.54 9.88 18.36L13.41 14.83C14.59 13.66 14.59 11.76 13.41 10.59C13 10.2 13 9.56 13.41 9.17Z"/></svg><span class="bt">TANSS-LINK</span></div>
</div>
<div class="bd">
<div class="r"><span class="l g">Erstellt am</span><span class="v">2021-05-18</span></div>
<div class="r"><span class="l">Status</span><span class="v">Warteschlange</span></div>
<div class="r"><span class="l">Typ</span><span class="v">Störung</span></div>
<div class="r"><span class="l">zugewiesene Abteilung</span><span class="v">First Level Support</span></div>
<div class="r"><span class="l">zugewiesener Mitarbeiter</span><span class="v">Oesterhoff, Jan</span></div>
</div>
</div>
<div class="card">
<div class="hd">
<div class="tr"><svg class="ib" viewBox="0 0 448 512"><path d="M436 160c6.6 0 12-5.4 12-12v-40c0-6.6-5.4-12-12-12h-20V48c0-26.5-21.5-48-48-48H48C21.5 0 0 21.5 0 48v416c0 26.5 21.5 48 48 48h320c26.5 0 48-21.5 48-48v-48h20c6.6 0 12-5.4 12-12v-40c0-6.6-5.4-12-12-12h-20v-64h20c6.6 0 12-5.4 12-12v-40c0-6.6-5.4-12-12-12h-20v-64h20zm-228-32c35.3 0 64 28.7 64 64s-28.7 64-64 64-64-28.7-64-64 28.7-64 64-64zm112 236.8c0 10.6-10 19.2-22.4 19.2H118.4C106 384 96 375.4 96 364.8v-19.2c0-31.8 30.1-57.6 67.2-57.6h5c12.3 5.1 25.7 8 39.8 8s27.6-2.9 39.8-8h5c37.1 0 67.2 25.8 67.2 57.6v19.2z"/></svg><div class="tt">Druckerprobleme</div><svg class="ip" viewBox="0 0 24 24"><path d="M20.71 7.04C21.1 6.65 21.1 6 20.71 5.63L18.37 3.29C18 2.9 17.35 2.9 16.96 3.29L15.12 5.12L18.87 8.87M3 17.25V21H6.75L17.81 9.93L14.06 6.18L3 17.25Z"/></svg></div>
<div class="btn"><svg class="il" viewBox="0 0 24 24"><path d="M10.59 13.41C11 13.8 11 14.44 10.59 14.83C10.2 15.22 9.56 15.22 9.17 14.83C7.22 12.88 7.22 9.71 9.17 7.76V7.76L12.71 4.22C14.66 2.27 17.83 2.27 19.78 4.22C21.73 6.17 21.73 9.34 19.78 11.29L18.29 12.78C18.3 11.96 18.17 11.14 17.89 10.36L18.36 9.88C19.54 8.71 19.54 6.81 18.36 5.64C17.19 4.46 15.29 4.46 14.12 5.64L10.59 9.17C9.41 10.34 9.41 12.24 10.59 13.41M13.41 9.17C13.8 8.78 14.44 8.78 14.83 9.17C16.78 11.12 16.78 14.29 14.83 16.24V16.24L11.29 19.78C9.34 21.73 6.17 21.73 4.22 19.78C2.27 17.83 2.27 14.66 4.22 12.71L5.71 11.22C5.7 12.04 5.83 12.86 6.11 13.65L5.64 14.12C4.46 15.29 4.46 17.19 5.64 18.36C6.81 19.54 8.71 19.54 9.88 18.36L13.41 14.83C14.59 13.66 14.59 11.76 13.41 10.59C13 10.2 13 9.56 13.41 9.17Z"/></svg><span class="bt">TANSS-LINK</span></div>
</div>
<div class="bd">
<div class="r"><span class="l g">Erstellt am</span><span class="v">2021-07-19</span></div>
<div class="r"><span class="l">Status</span><span class="v">Warteschlange</span></div>
<div class="r"><span class="l">Typ</span><span class="v">Störung</span></div>
<div class="r"><span class="l">zugewiesene Abteilung</span><span class="v">First Level Support</span></div>
<div class="r"><span class="l">zugewiesener Mitarbeiter</span><span class="v">Oesterhoff, Jan</span></div>
</div>
</div>
<div class="card">
<div class="hd">
<div class="tr"><svg class="ib" viewBox="0 0 448 512"><path d="M436 160c6.6 0 12-5.4 12-12v-40c0-6.6-5.4-12-12-12h-20V48c0-26.5-21.5-48-48-48H48C21.5 0 0 21.5 0 48v416c0 26.5 21.5 48 48 48h320c26.5 0 48-21.5 48-48v-48h20c6.6 0 12-5.4 12-12v-40c0-6.6-5.4-12-12-12h-20v-64h20c6.6 0 12-5.4 12-12v-40c0-6.6-5.4-12-12-12h-20v-64h20zm-228-32c35.3 0 64 28.7 64 64s-28.7 64-64 64-64-28.7-64-64 28.7-64 64-64zm112 236.8c0 10.6-10 19.2-22.4 19.2H118.4C106 384 96 375.4 96 364.8v-19.2c0-31.8 30.1-57.6 67.2-57.6h5c12.3 5.1 25.7 8 39.8 8s27.6-2.9 39.8-8h5c37.1 0 67.2 25.8 67.2 57.6v19.2z"/></svg><div class="tt">Verbindungsprobleme bei Starface Telefonaten</div><svg class="ip" viewBox="0 0 24 24"><path d="M20.71 7.04C21.1 6.65 21.1 6 20.71 5.63L18.37 3.29C18 2.9 17.35 2.9 16.96 3.29L15.12 5.12L18.87 8.87M3 17.25V21H6.75L17.81 9.93L14.06 6.18L3 17.25Z"/></svg></div>
<div class="btn"><svg class="il" viewBox="0 0 24 24"><path d="M10.59 13.41C11 13.8 11 14.44 10.59 14.83C10.2 15.22 9.56 15.22 9.17 14.83C7.22 12.88 7.22 9.71 9.17 7.76V7.76L12.71 4.22C14.66 2.27 17.83 2.27 19.78 4.22C21.73 6.17 21.73 9.34 19.78 11.29L18.29 12.78C18.3 11.96 18.17 11.14 17.89 10.36L18.36 9.88C19.54 8.71 19.54 6.81 18.36 5.64C17.19 4.46 15.29 4.46 14.12 5.64L10.59 9.17C9.41 10.34 9.41 12.24 10.59 13.41M13.41 9.17C13.8 8.78 14.44 8.78 14.83 9.17C16.78 11.12 16.78 14.29 14.83 16.24V16.24L11.29 19.78C9.34 21.73 6.17 21.73 4.22 19.78C2.27 17.83 2.27 14.66 4.22 12.71L5.71 11.22C5.7 12.04 5.83 12.86 6.11 13.65L5.64 14.12C4.46 15.29 4.46 17.19 5.64 18.36C6.81 19.54 8.71 19.54 9.88 18.36L13.41 14.83C14.59 13.66 14.59 11.76 13.41 10.59C13 10.2 13 9.56 13.41 9.17Z"/></svg><span class="bt">TANSS-LINK</span></div>
</div>
<div class="bd">
<div class="r"><span class="l g">Erstellt am</span><span class="v">2021-07-21</span></div>
<div class="r"><span class="l">Status</span><span class="v">Warteschlange</span></div>
<div class="r"><span class="l">Typ</span><span class="v">Störung</span></div>
<div class="r"><span class="l">zugewiesene Abteilung</span><span class="v">Second Level Support</span></div>
<div class="r"><span class="l">zugewiesener Mitarbeiter</span><span class="v">Oesterhoff, Jan</span></div>
</div>
</div>
<div class="card">
<div class="hd">
<div class="tr"><svg class="ib" viewBox="0 0 448 512"><path d="M436 160c6.6 0 12-5.4 12-12v-40c0-6.6-5.4-12-12-12h-20V48c0-26.5-21.5-48-48-48H48C21.5 0 0 21.5 0 48v416c0 26.5 21.5 48 48 48h320c26.5 0 48-21.5 48-48v-48h20c6.6 0 12-5.4 12-12v-40c0-6.6-5.4-12-12-12h-20v-64h20c6.6 0 12-5.4 12-12v-40c0-6.6-5.4-12-12-12h-20v-64h20zm-228-32c35.3 0 64 28.7 64 64s-28.7 64-64 64-64-28.7-64-64 28.7-64 64-64zm112 236.8c0 10.6-10 19.2-22.4 19.2H118.4C106 384 96 375.4 96 364.8v-19.2c0-31.8 30.1-57.6 67.2-57.6h5c12.3 5.1 25.7 8 39.8 8s27.6-2.9 39.8-8h5c37.1 0 67.2 25.8 67.2 57.6v19.2z"/></svg><div class="tt">Monatssicherung fehlgeschlagen</div><svg class="ip" viewBox="0 0 24 24"><path d="M20.71 7.04C21.1 6.65 21.1 6 20.71 5.63L18.37 3.29C18 2.9 17.35 2.9 16.96 3.29L15.12 5.12L18.87 8.87M3 17.25V21H6.75L17.81 9.93L14.06 6.18L3 17.25Z"/></svg></div>
<div class="btn"><svg class="il" viewBox="0 0 24 24"><path d="M10.59 13.41C11 13.8 11 14.44 10.59 14.83C10.2 15.22 9.56 15.22 9.17 14.83C7.22 12.88 7.22 9.71 9.17 7.76V7.76L12.71 4.22C14.66 2.27 17.83 2.27 19.78 4.22C21.73 6.17 21.73 9.34 19.78 11.29L18.29 12.78C18.3 11.96 18.17 11.14 17.89 10.36L18.36 9.88C19.54 8.71 19.54 6.81 18.36 5.64C17.19 4.46 15.29 4.46 14.12 5.64L10.59 9.17C9.41 10.34 9.41 12.24 10.59 13.41M13.41 9.17C13.8 8.78 14.44 8.78 14.83 9.17C16.78 11.12 16.78 14.29 14.83 16.24V16.24L11.29 19.78C9.34 21.73 6.17 21.73 4.22 19.78C2.27 17.83 2.27 14.66 4.22 12.71L5.71 11.22C5.7 12.04 5.83 12.86 6.11 13.65L5.64 14.12C4.46 15.29 4.46 17.19 5.64 18.36C6.81 19.54 8.71 19.54 9.88 18.36L13.41 14.83C14.59 13.66 14.59 11.76 13.41 10.59C13 10.2 13 9.56 13.41 9.17Z"/></svg><span class="bt">TANSS-LINK</span></div>
</div>
<div class="bd">
<div class="r"><span class="l g">Erstellt am</span><span class="v">2021-07-26</span></div>
<div class="r"><span class="l">Status</span><span class="v">Warteschlange</span></div>
<div class="r"><span class="l">Typ</span><span class="v">Störung</span></div>
<div class="r"><span class="l">zugewiesene Abteilung</span><span class="v">Second Level Support</span></div>
<div class="r"><span class="l">zugewiesener Mitarbeiter</span><span class="v">Oesterhoff, Jan</span></div>
</div>
</div>
<div class="card">
<div class="hd">
<div class="tr"><svg class="ib" viewBox="0 0 448 512"><path d="M436 160c6.6 0 12-5.4 12-12v-40c0-6.6-5.4-12-12-12h-20V48c0-26.5-21.5-48-48-48H48C21.5 0 0 21.5 0 48v416c0 26.5 21.5 48 48 48h320c26.5 0 48-21.5 48-48v-48h20c6.6 0 12-5.4 12-12v-40c0-6.6-5.4-12-12-12h-20v-64h20c6.6 0 12-5.4 12-12v-40c0-6.6-5.4-12-12-12h-20v-64h20zm-228-32c35.3 0 64 28.7 64 64s-28.7 64-64 64-64-28.7-64-64 28.7-64 64-64zm112 236.8c0 10.6-10 19.2-22.4 19.2H118.4C106 384 96 375.4 96 364.8v-19.2c0-31.8 30.1-57.6 67.2-57.6h5c12.3 5.1 25.7 8 39.8 8s27.6-2.9 39.8-8h5c37.1 0 67.2 25.8 67.2 57.6v19.2z"/></svg><div class="tt">Starface funktioniert nicht - Fr Kruppa</div><svg class="ip" viewBox="0 0 24 24"><path d="M20.71 7.04C21.1 6.65 21.1 6 20.71 5.63L18.37 3.29C18 2.9 17.35 2.9 16.96 3.29L15.12 5.12L18.87 8.87M3 17.25V21H6.75L17.81 9.93L14.06 6.18L3 17.25Z"/></svg></div>
<div class="btn"><svg class="il" viewBox="0 0 24 24"><path d="M10.59 13.41C11 13.8 11 14.44 10.59 14.83C10.2 15.22 9.56 15.22 9.17 14.83C7.22 12.88 7.22 9.71 9.17 7.76V7.76L12.71 4.22C14.66 2.27 17.83 2.27 19.78 4.22C21.73 6.17 21.73 9.34 19.78 11.29L18.29 12.78C18.3 11.96 18.17 11.14 17.89 10.36L18.36 9.88C19.54 8.71 19.54 6.81 18.36 5.64C17.19 4.46 15.29 4.46 14.12 5.64L10.59 9.17C9.41 10.34 9.41 12.24 10.59 13.41M13.41 9.17C13.8 8.78 14.44 8.78 14.83 9.17C16.78 11.12 16.78 14.29 14.83 16.24V16.24L11.29 19.78C9.34 21.73 6.17 21.73 4.22 19.78C2.27 17.83 2.27 14.66 4.22 12.71L5.71 11.22C5.7 12.04 5.83 12.86 6.11 13.65L5.64 14.12C4.46 15.29 4.46 17.19 5.64 18.36C6.81 19.54 8.71 19.54 9.88 18.36L13.41 14.83C14.59 13.66 14.59 11.76 13.41 10.59C13 10.2 13 9.56 13.41 9.17Z"/></svg><span class="bt">TANSS-LINK</span></div>
</div>
<div class="bd">
<div class="r"><span class="l g">Erstellt am</span><span class="v">2021-07-26</span></div>
<div class="r"><span class="l">Status</span><span class="v">Warteschlange</span></div>
<div class="r"><span class="l">Typ</span><span class="v">Problem</span></div>
<div class="r"><span class="l">zugewiesene Abteilung</span><span class="v">Second Level Support</span></div>
<div class="r"><span class="l">zugewiesener Mitarbeiter</span><span class="v">Oesterhoff, Jan</span></div>
</div>
</div>
</div>
</div>
<div class="col" style="left:592px">
<div class="bg" style="left:0px;right:0px;background:#f99dd1"></div>
<div class="ct">Thiessen, Roger (4)</div>
<div class="dots"><i></i><i></i><i></i></div>
<div class="cards" style="--cdl:1.1px;--cdr:0px">
<div class="card">
<div class="hd">
<div class="tr"><svg class="ib" viewBox="0 0 448 512"><path d="M436 160c6.6 0 12-5.4 12-12v-40c0-6.6-5.4-12-12-12h-20V48c0-26.5-21.5-48-48-48H48C21.5 0 0 21.5 0 48v416c0 26.5 21.5 48 48 48h320c26.5 0 48-21.5 48-48v-48h20c6.6 0 12-5.4 12-12v-40c0-6.6-5.4-12-12-12h-20v-64h20c6.6 0 12-5.4 12-12v-40c0-6.6-5.4-12-12-12h-20v-64h20zm-228-32c35.3 0 64 28.7 64 64s-28.7 64-64 64-64-28.7-64-64 28.7-64 64-64zm112 236.8c0 10.6-10 19.2-22.4 19.2H118.4C106 384 96 375.4 96 364.8v-19.2c0-31.8 30.1-57.6 67.2-57.6h5c12.3 5.1 25.7 8 39.8 8s27.6-2.9 39.8-8h5c37.1 0 67.2 25.8 67.2 57.6v19.2z"/></svg><div class="tt">Implementierung einer Starface TK Anlage</div><svg class="ip" viewBox="0 0 24 24"><path d="M20.71 7.04C21.1 6.65 21.1 6 20.71 5.63L18.37 3.29C18 2.9 17.35 2.9 16.96 3.29L15.12 5.12L18.87 8.87M3 17.25V21H6.75L17.81 9.93L14.06 6.18L3 17.25Z"/></svg></div>
<div class="btn"><svg class="il" viewBox="0 0 24 24"><path d="M10.59 13.41C11 13.8 11 14.44 10.59 14.83C10.2 15.22 9.56 15.22 9.17 14.83C7.22 12.88 7.22 9.71 9.17 7.76V7.76L12.71 4.22C14.66 2.27 17.83 2.27 19.78 4.22C21.73 6.17 21.73 9.34 19.78 11.29L18.29 12.78C18.3 11.96 18.17 11.14 17.89 10.36L18.36 9.88C19.54 8.71 19.54 6.81 18.36 5.64C17.19 4.46 15.29 4.46 14.12 5.64L10.59 9.17C9.41 10.34 9.41 12.24 10.59 13.41M13.41 9.17C13.8 8.78 14.44 8.78 14.83 9.17C16.78 11.12 16.78 14.29 14.83 16.24V16.24L11.29 19.78C9.34 21.73 6.17 21.73 4.22 19.78C2.27 17.83 2.27 14.66 4.22 12.71L5.71 11.22C5.7 12.04 5.83 12.86 6.11 13.65L5.64 14.12C4.46 15.29 4.46 17.19 5.64 18.36C6.81 19.54 8.71 19.54 9.88 18.36L13.41 14.83C14.59 13.66 14.59 11.76 13.41 10.59C13 10.2 13 9.56 13.41 9.17Z"/></svg><span class="bt">TANSS-LINK</span></div>
</div>
<div class="bd">
<div class="r"><span class="l g">Erstellt am</span><span class="v">2021-05-18</span></div>
<div class="r"><span class="l">Status</span><span class="v">Warteschlange</span></div>
<div class="r"><span class="l">Typ</span><span class="v">Installation</span></div>
<div class="r"><span class="l">zugewiesene Abteilung</span><span class="v">Second Level Support</span></div>
<div class="r"><span class="l">zugewiesener Mitarbeiter</span><span class="v">Thiessen, Roger</span></div>
</div>
</div>
<div class="card">
<div class="hd">
<div class="tr"><svg class="ib" viewBox="0 0 448 512"><path d="M436 160c6.6 0 12-5.4 12-12v-40c0-6.6-5.4-12-12-12h-20V48c0-26.5-21.5-48-48-48H48C21.5 0 0 21.5 0 48v416c0 26.5 21.5 48 48 48h320c26.5 0 48-21.5 48-48v-48h20c6.6 0 12-5.4 12-12v-40c0-6.6-5.4-12-12-12h-20v-64h20c6.6 0 12-5.4 12-12v-40c0-6.6-5.4-12-12-12h-20v-64h20zm-228-32c35.3 0 64 28.7 64 64s-28.7 64-64 64-64-28.7-64-64 28.7-64 64-64zm112 236.8c0 10.6-10 19.2-22.4 19.2H118.4C106 384 96 375.4 96 364.8v-19.2c0-31.8 30.1-57.6 67.2-57.6h5c12.3 5.1 25.7 8 39.8 8s27.6-2.9 39.8-8h5c37.1 0 67.2 25.8 67.2 57.6v19.2z"/></svg><div class="tt">Angebot diverse Hardware</div><svg class="ip" viewBox="0 0 24 24"><path d="M20.71 7.04C21.1 6.65 21.1 6 20.71 5.63L18.37 3.29C18 2.9 17.35 2.9 16.96 3.29L15.12 5.12L18.87 8.87M3 17.25V21H6.75L17.81 9.93L14.06 6.18L3 17.25Z"/></svg></div>
<div class="btn"><svg class="il" viewBox="0 0 24 24"><path d="M10.59 13.41C11 13.8 11 14.44 10.59 14.83C10.2 15.22 9.56 15.22 9.17 14.83C7.22 12.88 7.22 9.71 9.17 7.76V7.76L12.71 4.22C14.66 2.27 17.83 2.27 19.78 4.22C21.73 6.17 21.73 9.34 19.78 11.29L18.29 12.78C18.3 11.96 18.17 11.14 17.89 10.36L18.36 9.88C19.54 8.71 19.54 6.81 18.36 5.64C17.19 4.46 15.29 4.46 14.12 5.64L10.59 9.17C9.41 10.34 9.41 12.24 10.59 13.41M13.41 9.17C13.8 8.78 14.44 8.78 14.83 9.17C16.78 11.12 16.78 14.29 14.83 16.24V16.24L11.29 19.78C9.34 21.73 6.17 21.73 4.22 19.78C2.27 17.83 2.27 14.66 4.22 12.71L5.71 11.22C5.7 12.04 5.83 12.86 6.11 13.65L5.64 14.12C4.46 15.29 4.46 17.19 5.64 18.36C6.81 19.54 8.71 19.54 9.88 18.36L13.41 14.83C14.59 13.66 14.59 11.76 13.41 10.59C13 10.2 13 9.56 13.41 9.17Z"/></svg><span class="bt">TANSS-LINK</span></div>
</div>
<div class="bd">
<div class="r"><span class="l g">Erstellt am</span><span class="v">2021-05-03</span></div>
<div class="r"><span class="l">Status</span><span class="v">Warteschlange</span></div>
<div class="r"><span class="l">Typ</span><span class="v">Angebotserstellung</span></div>
<div class="r"><span class="l">zugewiesene Abteilung</span><span class="v">Second Level Support</span></div>
<div class="r"><span class="l">zugewiesener Mitarbeiter</span><span class="v">Thiessen, Roger</span></div>
</div>
</div>
<div class="card">
<div class="hd">
<div class="tr"><svg class="ib" viewBox="0 0 448 512"><path d="M436 160c6.6 0 12-5.4 12-12v-40c0-6.6-5.4-12-12-12h-20V48c0-26.5-21.5-48-48-48H48C21.5 0 0 21.5 0 48v416c0 26.5 21.5 48 48 48h320c26.5 0 48-21.5 48-48v-48h20c6.6 0 12-5.4 12-12v-40c0-6.6-5.4-12-12-12h-20v-64h20c6.6 0 12-5.4 12-12v-40c0-6.6-5.4-12-12-12h-20v-64h20zm-228-32c35.3 0 64 28.7 64 64s-28.7 64-64 64-64-28.7-64-64 28.7-64 64-64zm112 236.8c0 10.6-10 19.2-22.4 19.2H118.4C106 384 96 375.4 96 364.8v-19.2c0-31.8 30.1-57.6 67.2-57.6h5c12.3 5.1 25.7 8 39.8 8s27.6-2.9 39.8-8h5c37.1 0 67.2 25.8 67.2 57.6v19.2z"/></svg><div class="tt">RA-Micro Telefonassistent einrichten</div><svg class="ip" viewBox="0 0 24 24"><path d="M20.71 7.04C21.1 6.65 21.1 6 20.71 5.63L18.37 3.29C18 2.9 17.35 2.9 16.96 3.29L15.12 5.12L18.87 8.87M3 17.25V21H6.75L17.81 9.93L14.06 6.18L3 17.25Z"/></svg></div>
<div class="btn"><svg class="il" viewBox="0 0 24 24"><path d="M10.59 13.41C11 13.8 11 14.44 10.59 14.83C10.2 15.22 9.56 15.22 9.17 14.83C7.22 12.88 7.22 9.71 9.17 7.76V7.76L12.71 4.22C14.66 2.27 17.83 2.27 19.78 4.22C21.73 6.17 21.73 9.34 19.78 11.29L18.29 12.78C18.3 11.96 18.17 11.14 17.89 10.36L18.36 9.88C19.54 8.71 19.54 6.81 18.36 5.64C17.19 4.46 15.29 4.46 14.12 5.64L10.59 9.17C9.41 10.34 9.41 12.24 10.59 13.41M13.41 9.17C13.8 8.78 14.44 8.78 14.83 9.17C16.78 11.12 16.78 14.29 14.83 16.24V16.24L11.29 19.78C9.34 21.73 6.17 21.73 4.22 19.78C2.27 17.83 2.27 14.66 4.22 12.71L5.71 11.22C5.7 12.04 5.83 12.86 6.11 13.65L5.64 14.12C4.46 15.29 4.46 17.19 5.64 18.36C6.81 19.54 8.71 19.54 9.88 18.36L13.41 14.83C14.59 13.66 14.59 11.76 13.41 10.59C13 10.2 13 9.56 13.41 9.17Z"/></svg><span class="bt">TANSS-LINK</span></div>
</div>
<div class="bd">
<div class="r"><span class="l g">Erstellt am</span><span class="v">2021-08-04</span></div>
<div class="r"><span class="l">Status</span><span class="v">Vorgeplant</span></div>
<div class="r"><span class="l">Typ</span><span class="v">Störung</span></div>
<div class="r"><span class="l">zugewiesene Abteilung</span><span class="v">Second Level Support</span></div>
<div class="r"><span class="l">zugewiesener Mitarbeiter</span><span class="v">Thiessen, Roger</span></div>
</div>
</div>
<div class="card">
<div class="hd">
<div class="tr"><svg class="ib" viewBox="0 0 448 512"><path d="M436 160c6.6 0 12-5.4 12-12v-40c0-6.6-5.4-12-12-12h-20V48c0-26.5-21.5-48-48-48H48C21.5 0 0 21.5 0 48v416c0 26.5 21.5 48 48 48h320c26.5 0 48-21.5 48-48v-48h20c6.6 0 12-5.4 12-12v-40c0-6.6-5.4-12-12-12h-20v-64h20c6.6 0 12-5.4 12-12v-40c0-6.6-5.4-12-12-12h-20v-64h20zm-228-32c35.3 0 64 28.7 64 64s-28.7 64-64 64-64-28.7-64-64 28.7-64 64-64zm112 236.8c0 10.6-10 19.2-22.4 19.2H118.4C106 384 96 375.4 96 364.8v-19.2c0-31.8 30.1-57.6 67.2-57.6h5c12.3 5.1 25.7 8 39.8 8s27.6-2.9 39.8-8h5c37.1 0 67.2 25.8 67.2 57.6v19.2z"/></svg><div class="tt">mein Telefon</div><svg class="ip" viewBox="0 0 24 24"><path d="M20.71 7.04C21.1 6.65 21.1 6 20.71 5.63L18.37 3.29C18 2.9 17.35 2.9 16.96 3.29L15.12 5.12L18.87 8.87M3 17.25V21H6.75L17.81 9.93L14.06 6.18L3 17.25Z"/></svg></div>
<div class="btn"><svg class="il" viewBox="0 0 24 24"><path d="M10.59 13.41C11 13.8 11 14.44 10.59 14.83C10.2 15.22 9.56 15.22 9.17 14.83C7.22 12.88 7.22 9.71 9.17 7.76V7.76L12.71 4.22C14.66 2.27 17.83 2.27 19.78 4.22C21.73 6.17 21.73 9.34 19.78 11.29L18.29 12.78C18.3 11.96 18.17 11.14 17.89 10.36L18.36 9.88C19.54 8.71 19.54 6.81 18.36 5.64C17.19 4.46 15.29 4.46 14.12 5.64L10.59 9.17C9.41 10.34 9.41 12.24 10.59 13.41M13.41 9.17C13.8 8.78 14.44 8.78 14.83 9.17C16.78 11.12 16.78 14.29 14.83 16.24V16.24L11.29 19.78C9.34 21.73 6.17 21.73 4.22 19.78C2.27 17.83 2.27 14.66 4.22 12.71L5.71 11.22C5.7 12.04 5.83 12.86 6.11 13.65L5.64 14.12C4.46 15.29 4.46 17.19 5.64 18.36C6.81 19.54 8.71 19.54 9.88 18.36L13.41 14.83C14.59 13.66 14.59 11.76 13.41 10.59C13 10.2 13 9.56 13.41 9.17Z"/></svg><span class="bt">TANSS-LINK</span></div>
</div>
<div class="bd">
<div class="r"><span class="l g">Erstellt am</span><span class="v">2021-08-05</span></div>
<div class="r"><span class="l">Status</span><span class="v">Warteschlange</span></div>
<div class="r"><span class="l">Typ</span><span class="v">Störung</span></div>
<div class="r"><span class="l">zugewiesene Abteilung</span><span class="v">Second Level Support</span></div>
<div class="r"><span class="l">zugewiesener Mitarbeiter</span><span class="v">Thiessen, Roger</span></div>
</div>
</div>
</div>
</div>
<div class="col" style="left:738.7px">
<div class="bg" style="left:-1.05px;right:-1px;background:#bef08e"></div>
<div class="ct">Vorwerk, Karsten (5)</div>
<div class="dots"><i></i><i></i><i></i></div>
<div class="cards" style="--cdl:0px;--cdr:1px">
<div class="card">
<div class="hd">
<div class="tr"><svg class="ib" viewBox="0 0 448 512"><path d="M436 160c6.6 0 12-5.4 12-12v-40c0-6.6-5.4-12-12-12h-20V48c0-26.5-21.5-48-48-48H48C21.5 0 0 21.5 0 48v416c0 26.5 21.5 48 48 48h320c26.5 0 48-21.5 48-48v-48h20c6.6 0 12-5.4 12-12v-40c0-6.6-5.4-12-12-12h-20v-64h20c6.6 0 12-5.4 12-12v-40c0-6.6-5.4-12-12-12h-20v-64h20zm-228-32c35.3 0 64 28.7 64 64s-28.7 64-64 64-64-28.7-64-64 28.7-64 64-64zm112 236.8c0 10.6-10 19.2-22.4 19.2H118.4C106 384 96 375.4 96 364.8v-19.2c0-31.8 30.1-57.6 67.2-57.6h5c12.3 5.1 25.7 8 39.8 8s27.6-2.9 39.8-8h5c37.1 0 67.2 25.8 67.2 57.6v19.2z"/></svg><div class="tt">Easybill-Schnittstelle Cura, in Kooperation mit Hrn.<br>Otto</div><svg class="ip" viewBox="0 0 24 24"><path d="M20.71 7.04C21.1 6.65 21.1 6 20.71 5.63L18.37 3.29C18 2.9 17.35 2.9 16.96 3.29L15.12 5.12L18.87 8.87M3 17.25V21H6.75L17.81 9.93L14.06 6.18L3 17.25Z"/></svg></div>
<div class="btn"><svg class="il" viewBox="0 0 24 24"><path d="M10.59 13.41C11 13.8 11 14.44 10.59 14.83C10.2 15.22 9.56 15.22 9.17 14.83C7.22 12.88 7.22 9.71 9.17 7.76V7.76L12.71 4.22C14.66 2.27 17.83 2.27 19.78 4.22C21.73 6.17 21.73 9.34 19.78 11.29L18.29 12.78C18.3 11.96 18.17 11.14 17.89 10.36L18.36 9.88C19.54 8.71 19.54 6.81 18.36 5.64C17.19 4.46 15.29 4.46 14.12 5.64L10.59 9.17C9.41 10.34 9.41 12.24 10.59 13.41M13.41 9.17C13.8 8.78 14.44 8.78 14.83 9.17C16.78 11.12 16.78 14.29 14.83 16.24V16.24L11.29 19.78C9.34 21.73 6.17 21.73 4.22 19.78C2.27 17.83 2.27 14.66 4.22 12.71L5.71 11.22C5.7 12.04 5.83 12.86 6.11 13.65L5.64 14.12C4.46 15.29 4.46 17.19 5.64 18.36C6.81 19.54 8.71 19.54 9.88 18.36L13.41 14.83C14.59 13.66 14.59 11.76 13.41 10.59C13 10.2 13 9.56 13.41 9.17Z"/></svg><span class="bt">TANSS-LINK</span></div>
</div>
<div class="bd">
<div class="r"><span class="l g">Erstellt am</span><span class="v">2021-07-09</span></div>
<div class="r"><span class="l">Status</span><span class="v">Warteschlange</span></div>
<div class="r"><span class="l">Typ</span><span class="v">RFC</span></div>
<div class="r"><span class="l">zugewiesene Abteilung</span><span class="v">Second Level Support</span></div>
<div class="r"><span class="l">zugewiesener Mitarbeiter</span><span class="v">Vorwerk, Karsten</span></div>
</div>
</div>
<div class="card">
<div class="hd">
<div class="tr"><svg class="ib" viewBox="0 0 448 512"><path d="M436 160c6.6 0 12-5.4 12-12v-40c0-6.6-5.4-12-12-12h-20V48c0-26.5-21.5-48-48-48H48C21.5 0 0 21.5 0 48v416c0 26.5 21.5 48 48 48h320c26.5 0 48-21.5 48-48v-48h20c6.6 0 12-5.4 12-12v-40c0-6.6-5.4-12-12-12h-20v-64h20c6.6 0 12-5.4 12-12v-40c0-6.6-5.4-12-12-12h-20v-64h20zm-228-32c35.3 0 64 28.7 64 64s-28.7 64-64 64-64-28.7-64-64 28.7-64 64-64zm112 236.8c0 10.6-10 19.2-22.4 19.2H118.4C106 384 96 375.4 96 364.8v-19.2c0-31.8 30.1-57.6 67.2-57.6h5c12.3 5.1 25.7 8 39.8 8s27.6-2.9 39.8-8h5c37.1 0 67.2 25.8 67.2 57.6v19.2z"/></svg><div class="tt">Nutzung Inhaltsfilter</div><svg class="ip" viewBox="0 0 24 24"><path d="M20.71 7.04C21.1 6.65 21.1 6 20.71 5.63L18.37 3.29C18 2.9 17.35 2.9 16.96 3.29L15.12 5.12L18.87 8.87M3 17.25V21H6.75L17.81 9.93L14.06 6.18L3 17.25Z"/></svg></div>
<div class="btn"><svg class="il" viewBox="0 0 24 24"><path d="M10.59 13.41C11 13.8 11 14.44 10.59 14.83C10.2 15.22 9.56 15.22 9.17 14.83C7.22 12.88 7.22 9.71 9.17 7.76V7.76L12.71 4.22C14.66 2.27 17.83 2.27 19.78 4.22C21.73 6.17 21.73 9.34 19.78 11.29L18.29 12.78C18.3 11.96 18.17 11.14 17.89 10.36L18.36 9.88C19.54 8.71 19.54 6.81 18.36 5.64C17.19 4.46 15.29 4.46 14.12 5.64L10.59 9.17C9.41 10.34 9.41 12.24 10.59 13.41M13.41 9.17C13.8 8.78 14.44 8.78 14.83 9.17C16.78 11.12 16.78 14.29 14.83 16.24V16.24L11.29 19.78C9.34 21.73 6.17 21.73 4.22 19.78C2.27 17.83 2.27 14.66 4.22 12.71L5.71 11.22C5.7 12.04 5.83 12.86 6.11 13.65L5.64 14.12C4.46 15.29 4.46 17.19 5.64 18.36C6.81 19.54 8.71 19.54 9.88 18.36L13.41 14.83C14.59 13.66 14.59 11.76 13.41 10.59C13 10.2 13 9.56 13.41 9.17Z"/></svg><span class="bt">TANSS-LINK</span></div>
</div>
<div class="bd">
<div class="r"><span class="l g">Erstellt am</span><span class="v">2021-07-22</span></div>
<div class="r"><span class="l">Status</span><span class="v">Warteschlange</span></div>
<div class="r"><span class="l">Typ</span><span class="v">Störung</span></div>
<div class="r"><span class="l">zugewiesene Abteilung</span><span class="v">Second Level Support</span></div>
<div class="r"><span class="l">zugewiesener Mitarbeiter</span><span class="v">Vorwerk, Karsten</span></div>
</div>
</div>
<div class="card">
<div class="hd">
<div class="tr"><svg class="ib" viewBox="0 0 448 512"><path d="M436 160c6.6 0 12-5.4 12-12v-40c0-6.6-5.4-12-12-12h-20V48c0-26.5-21.5-48-48-48H48C21.5 0 0 21.5 0 48v416c0 26.5 21.5 48 48 48h320c26.5 0 48-21.5 48-48v-48h20c6.6 0 12-5.4 12-12v-40c0-6.6-5.4-12-12-12h-20v-64h20c6.6 0 12-5.4 12-12v-40c0-6.6-5.4-12-12-12h-20v-64h20zm-228-32c35.3 0 64 28.7 64 64s-28.7 64-64 64-64-28.7-64-64 28.7-64 64-64zm112 236.8c0 10.6-10 19.2-22.4 19.2H118.4C106 384 96 375.4 96 364.8v-19.2c0-31.8 30.1-57.6 67.2-57.6h5c12.3 5.1 25.7 8 39.8 8s27.6-2.9 39.8-8h5c37.1 0 67.2 25.8 67.2 57.6v19.2z"/></svg><div class="tt">Diverses</div><svg class="ip" viewBox="0 0 24 24"><path d="M20.71 7.04C21.1 6.65 21.1 6 20.71 5.63L18.37 3.29C18 2.9 17.35 2.9 16.96 3.29L15.12 5.12L18.87 8.87M3 17.25V21H6.75L17.81 9.93L14.06 6.18L3 17.25Z"/></svg></div>
<div class="btn"><svg class="il" viewBox="0 0 24 24"><path d="M10.59 13.41C11 13.8 11 14.44 10.59 14.83C10.2 15.22 9.56 15.22 9.17 14.83C7.22 12.88 7.22 9.71 9.17 7.76V7.76L12.71 4.22C14.66 2.27 17.83 2.27 19.78 4.22C21.73 6.17 21.73 9.34 19.78 11.29L18.29 12.78C18.3 11.96 18.17 11.14 17.89 10.36L18.36 9.88C19.54 8.71 19.54 6.81 18.36 5.64C17.19 4.46 15.29 4.46 14.12 5.64L10.59 9.17C9.41 10.34 9.41 12.24 10.59 13.41M13.41 9.17C13.8 8.78 14.44 8.78 14.83 9.17C16.78 11.12 16.78 14.29 14.83 16.24V16.24L11.29 19.78C9.34 21.73 6.17 21.73 4.22 19.78C2.27 17.83 2.27 14.66 4.22 12.71L5.71 11.22C5.7 12.04 5.83 12.86 6.11 13.65L5.64 14.12C4.46 15.29 4.46 17.19 5.64 18.36C6.81 19.54 8.71 19.54 9.88 18.36L13.41 14.83C14.59 13.66 14.59 11.76 13.41 10.59C13 10.2 13 9.56 13.41 9.17Z"/></svg><span class="bt">TANSS-LINK</span></div>
</div>
<div class="bd">
<div class="r"><span class="l g">Erstellt am</span><span class="v">2021-07-28</span></div>
<div class="r"><span class="l">Status</span><span class="v">in Bearbeitung</span></div>
<div class="r"><span class="l">Typ</span><span class="v">Störung</span></div>
<div class="r"><span class="l">zugewiesene Abteilung</span><span class="v">Second Level Support</span></div>
<div class="r"><span class="l">zugewiesener Mitarbeiter</span><span class="v">Vorwerk, Karsten</span></div>
</div>
</div>
<div class="card">
<div class="hd">
<div class="tr"><svg class="ib" viewBox="0 0 448 512"><path d="M436 160c6.6 0 12-5.4 12-12v-40c0-6.6-5.4-12-12-12h-20V48c0-26.5-21.5-48-48-48H48C21.5 0 0 21.5 0 48v416c0 26.5 21.5 48 48 48h320c26.5 0 48-21.5 48-48v-48h20c6.6 0 12-5.4 12-12v-40c0-6.6-5.4-12-12-12h-20v-64h20c6.6 0 12-5.4 12-12v-40c0-6.6-5.4-12-12-12h-20v-64h20zm-228-32c35.3 0 64 28.7 64 64s-28.7 64-64 64-64-28.7-64-64 28.7-64 64-64zm112 236.8c0 10.6-10 19.2-22.4 19.2H118.4C106 384 96 375.4 96 364.8v-19.2c0-31.8 30.1-57.6 67.2-57.6h5c12.3 5.1 25.7 8 39.8 8s27.6-2.9 39.8-8h5c37.1 0 67.2 25.8 67.2 57.6v19.2z"/></svg><div class="tt">PDF-Vorschau defekt</div><svg class="ip" viewBox="0 0 24 24"><path d="M20.71 7.04C21.1 6.65 21.1 6 20.71 5.63L18.37 3.29C18 2.9 17.35 2.9 16.96 3.29L15.12 5.12L18.87 8.87M3 17.25V21H6.75L17.81 9.93L14.06 6.18L3 17.25Z"/></svg></div>
<div class="btn"><svg class="il" viewBox="0 0 24 24"><path d="M10.59 13.41C11 13.8 11 14.44 10.59 14.83C10.2 15.22 9.56 15.22 9.17 14.83C7.22 12.88 7.22 9.71 9.17 7.76V7.76L12.71 4.22C14.66 2.27 17.83 2.27 19.78 4.22C21.73 6.17 21.73 9.34 19.78 11.29L18.29 12.78C18.3 11.96 18.17 11.14 17.89 10.36L18.36 9.88C19.54 8.71 19.54 6.81 18.36 5.64C17.19 4.46 15.29 4.46 14.12 5.64L10.59 9.17C9.41 10.34 9.41 12.24 10.59 13.41M13.41 9.17C13.8 8.78 14.44 8.78 14.83 9.17C16.78 11.12 16.78 14.29 14.83 16.24V16.24L11.29 19.78C9.34 21.73 6.17 21.73 4.22 19.78C2.27 17.83 2.27 14.66 4.22 12.71L5.71 11.22C5.7 12.04 5.83 12.86 6.11 13.65L5.64 14.12C4.46 15.29 4.46 17.19 5.64 18.36C6.81 19.54 8.71 19.54 9.88 18.36L13.41 14.83C14.59 13.66 14.59 11.76 13.41 10.59C13 10.2 13 9.56 13.41 9.17Z"/></svg><span class="bt">TANSS-LINK</span></div>
</div>
<div class="bd">
<div class="r"><span class="l g">Erstellt am</span><span class="v">2021-07-29</span></div>
<div class="r"><span class="l">Status</span><span class="v">Warteschlange</span></div>
<div class="r"><span class="l">Typ</span><span class="v">Störung</span></div>
<div class="r"><span class="l">zugewiesene Abteilung</span><span class="v">First Level Support</span></div>
<div class="r"><span class="l">zugewiesener Mitarbeiter</span><span class="v">Vorwerk, Karsten</span></div>
</div>
</div>
<div class="card">
<div class="hd">
<div class="tr"><svg class="ib" viewBox="0 0 448 512"><path d="M436 160c6.6 0 12-5.4 12-12v-40c0-6.6-5.4-12-12-12h-20V48c0-26.5-21.5-48-48-48H48C21.5 0 0 21.5 0 48v416c0 26.5 21.5 48 48 48h320c26.5 0 48-21.5 48-48v-48h20c6.6 0 12-5.4 12-12v-40c0-6.6-5.4-12-12-12h-20v-64h20c6.6 0 12-5.4 12-12v-40c0-6.6-5.4-12-12-12h-20v-64h20zm-228-32c35.3 0 64 28.7 64 64s-28.7 64-64 64-64-28.7-64-64 28.7-64 64-64zm112 236.8c0 10.6-10 19.2-22.4 19.2H118.4C106 384 96 375.4 96 364.8v-19.2c0-31.8 30.1-57.6 67.2-57.6h5c12.3 5.1 25.7 8 39.8 8s27.6-2.9 39.8-8h5c37.1 0 67.2 25.8 67.2 57.6v19.2z"/></svg><div class="tt">Kalendertypen</div><svg class="ip" viewBox="0 0 24 24"><path d="M20.71 7.04C21.1 6.65 21.1 6 20.71 5.63L18.37 3.29C18 2.9 17.35 2.9 16.96 3.29L15.12 5.12L18.87 8.87M3 17.25V21H6.75L17.81 9.93L14.06 6.18L3 17.25Z"/></svg></div>
<div class="btn"><svg class="il" viewBox="0 0 24 24"><path d="M10.59 13.41C11 13.8 11 14.44 10.59 14.83C10.2 15.22 9.56 15.22 9.17 14.83C7.22 12.88 7.22 9.71 9.17 7.76V7.76L12.71 4.22C14.66 2.27 17.83 2.27 19.78 4.22C21.73 6.17 21.73 9.34 19.78 11.29L18.29 12.78C18.3 11.96 18.17 11.14 17.89 10.36L18.36 9.88C19.54 8.71 19.54 6.81 18.36 5.64C17.19 4.46 15.29 4.46 14.12 5.64L10.59 9.17C9.41 10.34 9.41 12.24 10.59 13.41M13.41 9.17C13.8 8.78 14.44 8.78 14.83 9.17C16.78 11.12 16.78 14.29 14.83 16.24V16.24L11.29 19.78C9.34 21.73 6.17 21.73 4.22 19.78C2.27 17.83 2.27 14.66 4.22 12.71L5.71 11.22C5.7 12.04 5.83 12.86 6.11 13.65L5.64 14.12C4.46 15.29 4.46 17.19 5.64 18.36C6.81 19.54 8.71 19.54 9.88 18.36L13.41 14.83C14.59 13.66 14.59 11.76 13.41 10.59C13 10.2 13 9.56 13.41 9.17Z"/></svg><span class="bt">TANSS-LINK</span></div>
</div>
<div class="bd">
<div class="r"><span class="l g">Erstellt am</span><span class="v">2021-08-06</span></div>
<div class="r"><span class="l">Status</span><span class="v">Warteschlange</span></div>
<div class="r"><span class="l">Typ</span><span class="v">RFC</span></div>
<div class="r"><span class="l">zugewiesene Abteilung</span><span class="v">Ticketeingang</span></div>
<div class="r"><span class="l">zugewiesener Mitarbeiter</span><span class="v">Vorwerk, Karsten</span></div>
</div>
</div>
</div>
</div>
<div class="col" style="left:885.4px">
<div class="bg" style="left:0px;right:0px;background:#76f684"></div>
<div class="ct">Wabula, Filip (4)</div>
<div class="dots"><i></i><i></i><i></i></div>
<div class="cards">
<div class="card">
<div class="hd">
<div class="tr"><svg class="ib" viewBox="0 0 448 512"><path d="M436 160c6.6 0 12-5.4 12-12v-40c0-6.6-5.4-12-12-12h-20V48c0-26.5-21.5-48-48-48H48C21.5 0 0 21.5 0 48v416c0 26.5 21.5 48 48 48h320c26.5 0 48-21.5 48-48v-48h20c6.6 0 12-5.4 12-12v-40c0-6.6-5.4-12-12-12h-20v-64h20c6.6 0 12-5.4 12-12v-40c0-6.6-5.4-12-12-12h-20v-64h20zm-228-32c35.3 0 64 28.7 64 64s-28.7 64-64 64-64-28.7-64-64 28.7-64 64-64zm112 236.8c0 10.6-10 19.2-22.4 19.2H118.4C106 384 96 375.4 96 364.8v-19.2c0-31.8 30.1-57.6 67.2-57.6h5c12.3 5.1 25.7 8 39.8 8s27.6-2.9 39.8-8h5c37.1 0 67.2 25.8 67.2 57.6v19.2z"/></svg><div class="tt">Röntgen Notebook umbauen</div><svg class="ip" viewBox="0 0 24 24"><path d="M20.71 7.04C21.1 6.65 21.1 6 20.71 5.63L18.37 3.29C18 2.9 17.35 2.9 16.96 3.29L15.12 5.12L18.87 8.87M3 17.25V21H6.75L17.81 9.93L14.06 6.18L3 17.25Z"/></svg></div>
<div class="btn"><svg class="il" viewBox="0 0 24 24"><path d="M10.59 13.41C11 13.8 11 14.44 10.59 14.83C10.2 15.22 9.56 15.22 9.17 14.83C7.22 12.88 7.22 9.71 9.17 7.76V7.76L12.71 4.22C14.66 2.27 17.83 2.27 19.78 4.22C21.73 6.17 21.73 9.34 19.78 11.29L18.29 12.78C18.3 11.96 18.17 11.14 17.89 10.36L18.36 9.88C19.54 8.71 19.54 6.81 18.36 5.64C17.19 4.46 15.29 4.46 14.12 5.64L10.59 9.17C9.41 10.34 9.41 12.24 10.59 13.41M13.41 9.17C13.8 8.78 14.44 8.78 14.83 9.17C16.78 11.12 16.78 14.29 14.83 16.24V16.24L11.29 19.78C9.34 21.73 6.17 21.73 4.22 19.78C2.27 17.83 2.27 14.66 4.22 12.71L5.71 11.22C5.7 12.04 5.83 12.86 6.11 13.65L5.64 14.12C4.46 15.29 4.46 17.19 5.64 18.36C6.81 19.54 8.71 19.54 9.88 18.36L13.41 14.83C14.59 13.66 14.59 11.76 13.41 10.59C13 10.2 13 9.56 13.41 9.17Z"/></svg><span class="bt">TANSS-LINK</span></div>
</div>
<div class="bd">
<div class="r"><span class="l g">Erstellt am</span><span class="v">2021-07-14</span></div>
<div class="r"><span class="l">Status</span><span class="v">Warteschlange</span></div>
<div class="r"><span class="l">Typ</span><span class="v">RFC</span></div>
<div class="r"><span class="l">zugewiesene Abteilung</span><span class="v">Second Level Support</span></div>
<div class="r"><span class="l">zugewiesener Mitarbeiter</span><span class="v">Wabula, Filip</span></div>
</div>
</div>
<div class="card">
<div class="hd">
<div class="tr"><svg class="ib" viewBox="0 0 448 512"><path d="M436 160c6.6 0 12-5.4 12-12v-40c0-6.6-5.4-12-12-12h-20V48c0-26.5-21.5-48-48-48H48C21.5 0 0 21.5 0 48v416c0 26.5 21.5 48 48 48h320c26.5 0 48-21.5 48-48v-48h20c6.6 0 12-5.4 12-12v-40c0-6.6-5.4-12-12-12h-20v-64h20c6.6 0 12-5.4 12-12v-40c0-6.6-5.4-12-12-12h-20v-64h20zm-228-32c35.3 0 64 28.7 64 64s-28.7 64-64 64-64-28.7-64-64 28.7-64 64-64zm112 236.8c0 10.6-10 19.2-22.4 19.2H118.4C106 384 96 375.4 96 364.8v-19.2c0-31.8 30.1-57.6 67.2-57.6h5c12.3 5.1 25.7 8 39.8 8s27.6-2.9 39.8-8h5c37.1 0 67.2 25.8 67.2 57.6v19.2z"/></svg><div class="tt">Mitarbeiter Christian Seifert</div><svg class="ip" viewBox="0 0 24 24"><path d="M20.71 7.04C21.1 6.65 21.1 6 20.71 5.63L18.37 3.29C18 2.9 17.35 2.9 16.96 3.29L15.12 5.12L18.87 8.87M3 17.25V21H6.75L17.81 9.93L14.06 6.18L3 17.25Z"/></svg></div>
<div class="btn"><svg class="il" viewBox="0 0 24 24"><path d="M10.59 13.41C11 13.8 11 14.44 10.59 14.83C10.2 15.22 9.56 15.22 9.17 14.83C7.22 12.88 7.22 9.71 9.17 7.76V7.76L12.71 4.22C14.66 2.27 17.83 2.27 19.78 4.22C21.73 6.17 21.73 9.34 19.78 11.29L18.29 12.78C18.3 11.96 18.17 11.14 17.89 10.36L18.36 9.88C19.54 8.71 19.54 6.81 18.36 5.64C17.19 4.46 15.29 4.46 14.12 5.64L10.59 9.17C9.41 10.34 9.41 12.24 10.59 13.41M13.41 9.17C13.8 8.78 14.44 8.78 14.83 9.17C16.78 11.12 16.78 14.29 14.83 16.24V16.24L11.29 19.78C9.34 21.73 6.17 21.73 4.22 19.78C2.27 17.83 2.27 14.66 4.22 12.71L5.71 11.22C5.7 12.04 5.83 12.86 6.11 13.65L5.64 14.12C4.46 15.29 4.46 17.19 5.64 18.36C6.81 19.54 8.71 19.54 9.88 18.36L13.41 14.83C14.59 13.66 14.59 11.76 13.41 10.59C13 10.2 13 9.56 13.41 9.17Z"/></svg><span class="bt">TANSS-LINK</span></div>
</div>
<div class="bd">
<div class="r"><span class="l g">Erstellt am</span><span class="v">2021-07-28</span></div>
<div class="r"><span class="l">Status</span><span class="v">Warteschlange</span></div>
<div class="r"><span class="l">Typ</span><span class="v">RFC</span></div>
<div class="r"><span class="l">zugewiesene Abteilung</span><span class="v">Second Level Support</span></div>
<div class="r"><span class="l">zugewiesener Mitarbeiter</span><span class="v">Wabula, Filip</span></div>
</div>
</div>
<div class="card">
<div class="hd">
<div class="tr"><svg class="ib" viewBox="0 0 448 512"><path d="M436 160c6.6 0 12-5.4 12-12v-40c0-6.6-5.4-12-12-12h-20V48c0-26.5-21.5-48-48-48H48C21.5 0 0 21.5 0 48v416c0 26.5 21.5 48 48 48h320c26.5 0 48-21.5 48-48v-48h20c6.6 0 12-5.4 12-12v-40c0-6.6-5.4-12-12-12h-20v-64h20c6.6 0 12-5.4 12-12v-40c0-6.6-5.4-12-12-12h-20v-64h20zm-228-32c35.3 0 64 28.7 64 64s-28.7 64-64 64-64-28.7-64-64 28.7-64 64-64zm112 236.8c0 10.6-10 19.2-22.4 19.2H118.4C106 384 96 375.4 96 364.8v-19.2c0-31.8 30.1-57.6 67.2-57.6h5c12.3 5.1 25.7 8 39.8 8s27.6-2.9 39.8-8h5c37.1 0 67.2 25.8 67.2 57.6v19.2z"/></svg><div class="tt">Anmeldung nach Update nicht möglich -<br>Zugangsdaten Outlook Hr Löer</div><svg class="ip" viewBox="0 0 24 24"><path d="M20.71 7.04C21.1 6.65 21.1 6 20.71 5.63L18.37 3.29C18 2.9 17.35 2.9 16.96 3.29L15.12 5.12L18.87 8.87M3 17.25V21H6.75L17.81 9.93L14.06 6.18L3 17.25Z"/></svg></div>
<div class="btn"><svg class="il" viewBox="0 0 24 24"><path d="M10.59 13.41C11 13.8 11 14.44 10.59 14.83C10.2 15.22 9.56 15.22 9.17 14.83C7.22 12.88 7.22 9.71 9.17 7.76V7.76L12.71 4.22C14.66 2.27 17.83 2.27 19.78 4.22C21.73 6.17 21.73 9.34 19.78 11.29L18.29 12.78C18.3 11.96 18.17 11.14 17.89 10.36L18.36 9.88C19.54 8.71 19.54 6.81 18.36 5.64C17.19 4.46 15.29 4.46 14.12 5.64L10.59 9.17C9.41 10.34 9.41 12.24 10.59 13.41M13.41 9.17C13.8 8.78 14.44 8.78 14.83 9.17C16.78 11.12 16.78 14.29 14.83 16.24V16.24L11.29 19.78C9.34 21.73 6.17 21.73 4.22 19.78C2.27 17.83 2.27 14.66 4.22 12.71L5.71 11.22C5.7 12.04 5.83 12.86 6.11 13.65L5.64 14.12C4.46 15.29 4.46 17.19 5.64 18.36C6.81 19.54 8.71 19.54 9.88 18.36L13.41 14.83C14.59 13.66 14.59 11.76 13.41 10.59C13 10.2 13 9.56 13.41 9.17Z"/></svg><span class="bt">TANSS-LINK</span></div>
</div>
<div class="bd">
<div class="r"><span class="l g">Erstellt am</span><span class="v">2021-08-06</span></div>
<div class="r"><span class="l">Status</span><span class="v">Warteschlange</span></div>
<div class="r"><span class="l">Typ</span><span class="v">Störung</span></div>
<div class="r"><span class="l">zugewiesene Abteilung</span><span class="v">First Level Support</span></div>
<div class="r"><span class="l">zugewiesener Mitarbeiter</span><span class="v">Wabula, Filip</span></div>
</div>
</div>
<div class="card">
<div class="hd">
<div class="tr"><svg class="ib" viewBox="0 0 448 512"><path d="M436 160c6.6 0 12-5.4 12-12v-40c0-6.6-5.4-12-12-12h-20V48c0-26.5-21.5-48-48-48H48C21.5 0 0 21.5 0 48v416c0 26.5 21.5 48 48 48h320c26.5 0 48-21.5 48-48v-48h20c6.6 0 12-5.4 12-12v-40c0-6.6-5.4-12-12-12h-20v-64h20c6.6 0 12-5.4 12-12v-40c0-6.6-5.4-12-12-12h-20v-64h20zm-228-32c35.3 0 64 28.7 64 64s-28.7 64-64 64-64-28.7-64-64 28.7-64 64-64zm112 236.8c0 10.6-10 19.2-22.4 19.2H118.4C106 384 96 375.4 96 364.8v-19.2c0-31.8 30.1-57.6 67.2-57.6h5c12.3 5.1 25.7 8 39.8 8s27.6-2.9 39.8-8h5c37.1 0 67.2 25.8 67.2 57.6v19.2z"/></svg><div class="tt">Einrichtung eines Druckers - Hr Pahmann</div><svg class="ip" viewBox="0 0 24 24"><path d="M20.71 7.04C21.1 6.65 21.1 6 20.71 5.63L18.37 3.29C18 2.9 17.35 2.9 16.96 3.29L15.12 5.12L18.87 8.87M3 17.25V21H6.75L17.81 9.93L14.06 6.18L3 17.25Z"/></svg></div>
<div class="btn"><svg class="il" viewBox="0 0 24 24"><path d="M10.59 13.41C11 13.8 11 14.44 10.59 14.83C10.2 15.22 9.56 15.22 9.17 14.83C7.22 12.88 7.22 9.71 9.17 7.76V7.76L12.71 4.22C14.66 2.27 17.83 2.27 19.78 4.22C21.73 6.17 21.73 9.34 19.78 11.29L18.29 12.78C18.3 11.96 18.17 11.14 17.89 10.36L18.36 9.88C19.54 8.71 19.54 6.81 18.36 5.64C17.19 4.46 15.29 4.46 14.12 5.64L10.59 9.17C9.41 10.34 9.41 12.24 10.59 13.41M13.41 9.17C13.8 8.78 14.44 8.78 14.83 9.17C16.78 11.12 16.78 14.29 14.83 16.24V16.24L11.29 19.78C9.34 21.73 6.17 21.73 4.22 19.78C2.27 17.83 2.27 14.66 4.22 12.71L5.71 11.22C5.7 12.04 5.83 12.86 6.11 13.65L5.64 14.12C4.46 15.29 4.46 17.19 5.64 18.36C6.81 19.54 8.71 19.54 9.88 18.36L13.41 14.83C14.59 13.66 14.59 11.76 13.41 10.59C13 10.2 13 9.56 13.41 9.17Z"/></svg><span class="bt">TANSS-LINK</span></div>
</div>
<div class="bd">
<div class="r"><span class="l g">Erstellt am</span><span class="v">2021-08-09</span></div>
<div class="r"><span class="l">Status</span><span class="v">Warteschlange</span></div>
<div class="r"><span class="l">Typ</span><span class="v">RFC</span></div>
<div class="r"><span class="l">zugewiesene Abteilung</span><span class="v">Second Level Support</span></div>
<div class="r"><span class="l">zugewiesener Mitarbeiter</span><span class="v">Wabula, Filip</span></div>
</div>
</div>
</div>
</div>
</div>
</body>
</html>
